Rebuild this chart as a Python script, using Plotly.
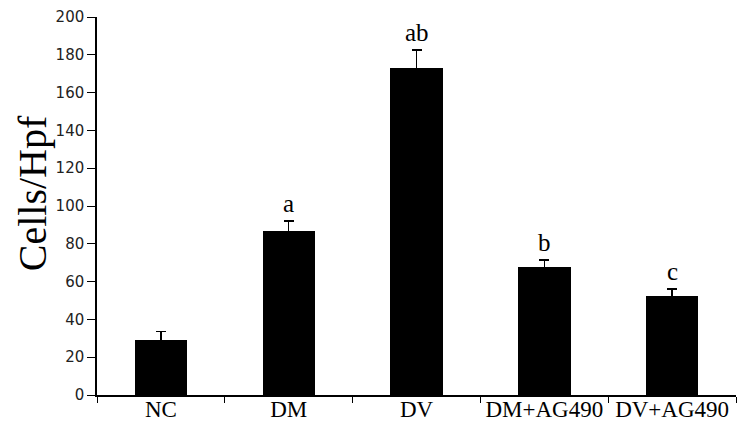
import plotly.graph_objects as go

# data
groups = ["NC", "DM", "DV", "DM+AG490", "DV+AG490"]
cells = [29, 87, 173, 67.5, 52.5]
sem = [4.5, 5, 9.5, 4, 3.6]
letters = ["", "a", "ab", "b", "c"]

fig = go.Figure()

fig.add_trace(go.Bar(
    x=groups, y=cells, width=0.41,
    marker=dict(color="black", line=dict(width=0)),
    error_y=dict(type="data", array=sem, visible=True,
                 color="black", thickness=1.3, width=5),
    showlegend=False,
))

# significance letters above error bars
for g, v, e, t in zip(groups, cells, sem, letters):
    if t:
        fig.add_annotation(
            x=g, y=v + e, text=t, showarrow=False,
            yanchor="bottom", yshift=2,
            font=dict(family="Liberation Serif", size=25, color="black"),
        )

# y axis title placed by hand (far left, like the reference)
fig.add_annotation(
    xref="paper", yref="paper", x=-89 / 639, y=0.535, text="Cells/Hpf",
    textangle=-90, showarrow=False, xanchor="left", yanchor="middle",
    font=dict(family="Liberation Serif", size=40, color="black"),
)

fig.update_layout(
    width=751, height=423,
    margin=dict(l=89, r=23, t=9, b=36),
    paper_bgcolor="white", plot_bgcolor="white",
    bargap=0,
    xaxis=dict(
        range=[-0.5, 4.5], showline=True, linecolor="black", linewidth=1.5,
        ticks="outside", tickson="boundaries", ticklen=6, tickcolor="black",
        tickfont=dict(family="Liberation Serif", size=23, color="black"),
        tickangle=0, ticklabelstandoff=-7,
        showgrid=False, zeroline=False, automargin=False,
    ),
    yaxis=dict(
        range=[0, 200], dtick=20, showline=True, linecolor="black", linewidth=1.5,
        ticks="outside", ticklen=8, tickcolor="black",
        tickfont=dict(family="DejaVu Sans", size=15, color="#222"),
        ticklabeloverflow="allow",
        showgrid=False, zeroline=False, automargin=False,
    ),
)

fig.write_html("out.html")
